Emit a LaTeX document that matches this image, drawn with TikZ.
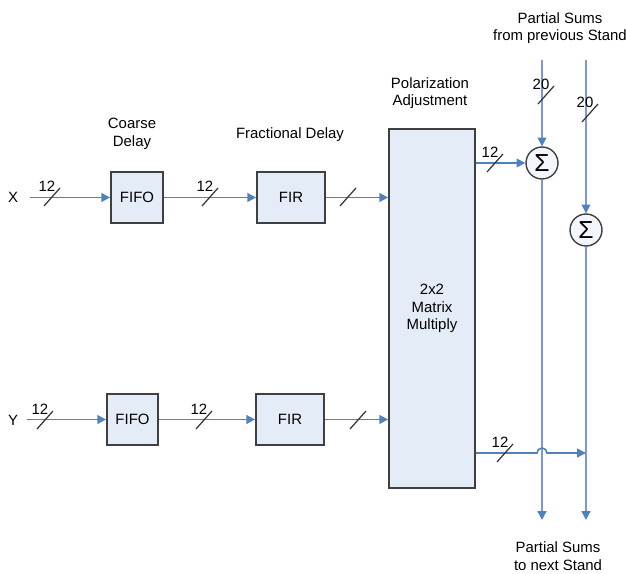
\documentclass[tikz,border=0pt]{standalone}
\usepackage{fontspec}
\setmainfont{Liberation Sans}
\usetikzlibrary{arrows.meta}

\definecolor{wire}{RGB}{79,129,189}
\definecolor{rail}{RGB}{125,150,215}
\definecolor{boxfill}{RGB}{228,236,247}
\definecolor{boxline}{RGB}{64,64,64}

\tikzset{
  blk/.style={draw=boxline, line width=1pt, fill=boxfill, minimum height=1.02cm, inner sep=0pt},
  sumnode/.style={circle, draw=boxline, line width=0.8pt, fill=boxfill!50, minimum size=0.64cm, inner sep=0pt, font=\fontsize{14}{14}\selectfont},
  link/.style={draw=wire, line width=0.9pt, -{Triangle[length=5pt,width=5pt,color=wire]}},
  railink/.style={link, draw=rail},
  busmark/.style={draw=black!80, line width=0.7pt},
  lbl/.style={align=center}
}

\begin{document}
\begin{tikzpicture}[x=0.02cm, y=-0.02cm, every node/.style={font=\fontsize{8.5}{10}\selectfont}]
    \useasboundingbox (0,0) rectangle (626,574);

    % Blocks
    \node[blk, minimum width=1.04cm] (fifox) at (137,197.5) {FIFO};
    \node[blk, minimum width=1.36cm] (firx) at (291,197.5) {FIR};
    \node[blk, minimum width=1.02cm] (fifoy) at (132.5,419.5) {FIFO};
    \node[blk, minimum width=1.36cm] (firy) at (290,419.5) {FIR};
    \node[blk, minimum width=1.72cm, minimum height=7.18cm, lbl] (mat) at (432,308.5) {2x2\\Matrix\\Multiply};

    % Adders
    \node[sumnode] (sum1) at (542,163) {Σ};
    \node[sumnode] (sum2) at (586,230) {Σ};

    % Texts
    \node (lx) at (13,197) {X};
    \node (ly) at (13,420) {Y};
    \node[lbl] (coarse) at (132,134) {Coarse\\Delay};
    \node (frac) at (290,135) {Fractional Delay};
    \node[lbl] (pol) at (430,93) {Polarization\\Adjustment};
    \node[lbl] (psin) at (560,28) {Partial Sums\\from previous Stand};
    \node[lbl] (psout) at (558,556) {Partial Sums\\to next Stand};

    % Ends of the rails
    \coordinate (inx) at (30,197.5);
    \coordinate (iny) at (27,419.5);
    \coordinate (top1) at (542,60);
    \coordinate (top2) at (586,60);
    \coordinate (bot1) at (542,520);
    \coordinate (bot2) at (586,520);
    \coordinate (jy) at (0,453);

    % X path
    \draw[link] (inx) -- (fifox);
    \draw[link] (fifox) -- (firx);
    \draw[link] (firx) -- (firx -| mat.west);

    % Y path
    \draw[link] (iny) -- (fifoy);
    \draw[link] (fifoy) -- (firy);
    \draw[link] (firy) -- (firy -| mat.west);

    % Partial sums
    \draw[railink] (top1) -- (sum1);
    \draw[railink] (sum1) -- (bot1);
    \draw[railink] (top2) -- (sum2);
    \draw[railink] (sum2) -- (bot2);
    \draw[link] (mat.east |- sum1) -- (sum1);
    \draw[link] (mat.east |- jy) -- ([xshift=-0.1cm]top1 |- jy) arc (180:0:0.1cm) -- (top2 |- jy);

    % Bus widths
    \foreach \px/\py/\w in {52/197/12, 210/197/12, 348/197/{}, 45/420/12, 204/420/12, 358/420/{}, 495/163/12, 505/453/12, 546/95/20, 590/113/20}{
        \draw[busmark] (\px,\py) ++(-8,9) -- ++(16,-18);
        \node (bw\px) at (\px-5,\py-11) {\w};
    }

\end{tikzpicture}
\end{document}
